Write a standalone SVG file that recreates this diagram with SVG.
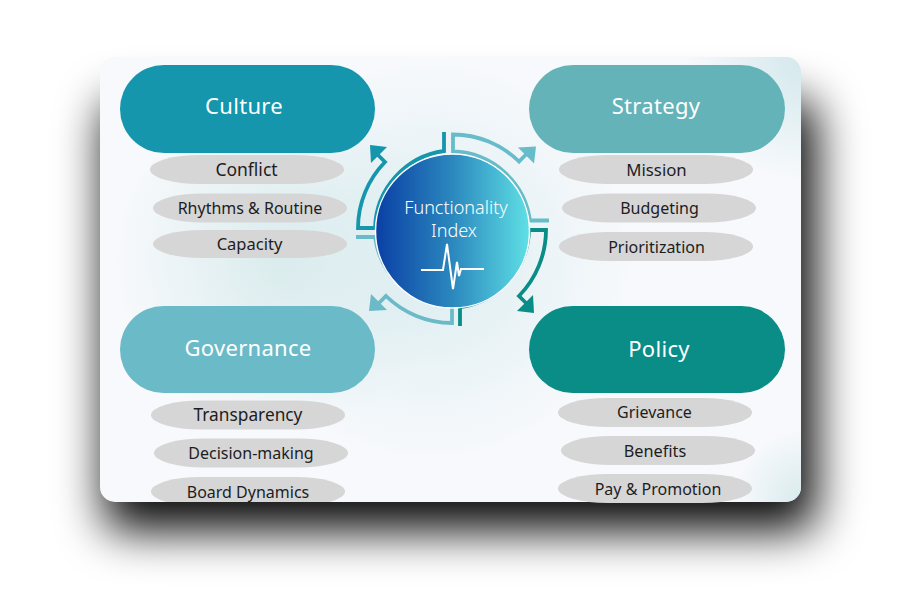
<svg xmlns="http://www.w3.org/2000/svg" width="900" height="600" viewBox="0 0 900 600">
<style>
text{font-family:"Noto Sans","Open Sans",sans-serif;text-anchor:middle}
.h{font-size:22px;fill:#fff;letter-spacing:.3px}
.s{font-size:16px;fill:#1d1d1f}
.p{fill:#d6d6d6}
.a{fill:none;stroke-width:3.8}
</style>
<defs>
<filter id="b1" x="-30%" y="-30%" width="160%" height="170%"><feGaussianBlur stdDeviation="23"/></filter>
<radialGradient id="t1" gradientUnits="userSpaceOnUse" cx="285" cy="260" r="170"><stop offset="0" stop-color="#d9ebec"/><stop offset="1" stop-color="#d9ebec" stop-opacity="0"/></radialGradient>
<radialGradient id="t2" gradientUnits="userSpaceOnUse" cx="430" cy="260" r="200"><stop offset="0" stop-color="#dcedf0"/><stop offset="1" stop-color="#dcedf0" stop-opacity="0"/></radialGradient>
<radialGradient id="t3" gradientUnits="userSpaceOnUse" cx="805" cy="60" r="120"><stop offset="0" stop-color="#d3e8ec"/><stop offset="1" stop-color="#d3e8ec" stop-opacity="0"/></radialGradient>
<radialGradient id="t4" gradientUnits="userSpaceOnUse" cx="805" cy="500" r="70"><stop offset="0" stop-color="#d8eaec"/><stop offset="1" stop-color="#d8eaec" stop-opacity="0"/></radialGradient>
<linearGradient id="c" x1="0" x2="1" y1="0" y2="0"><stop offset="0" stop-color="#0a3fa5"/><stop offset=".5" stop-color="#2b88be"/><stop offset="1" stop-color="#5fe0e5"/></linearGradient>
<clipPath id="card"><rect x="100" y="57" width="701" height="445" rx="15"/></clipPath>
<path id="arc" d="M444 132V151A80 80 0 0 0 375 228H358A95 95 0 0 1 385 162L378 155"/>
<path id="head" d="M370 145L387 147L371 163Z"/>
</defs>
<rect id="shadow" x="104" y="100" width="712" height="431" rx="20" fill="#000" fill-opacity=".95" filter="url(#b1)"/>
<g id="card-bg">
<rect x="100" y="57" width="701" height="445" rx="15" fill="#f7f9fc"/>
<g clip-path="url(#card)">
<rect x="100" y="57" width="701" height="445" fill="url(#t1)"/>
<rect x="100" y="57" width="701" height="445" fill="url(#t2)"/>
<rect x="100" y="57" width="701" height="445" fill="url(#t3)"/>
<rect x="100" y="57" width="701" height="445" fill="url(#t4)"/>
</g>
</g>
<g id="connectors">
<g stroke="#1596ac" fill="#1596ac"><use href="#arc" class="a"/><use href="#head" stroke="none"/></g>
<g stroke="#66bcc8" fill="#66bcc8" transform="translate(-2 -2.500) rotate(90 452 231)"><use href="#arc" class="a"/><use href="#head" stroke="none"/></g>
<g stroke="#0a8c87" fill="#0a8c87" transform="translate(0 -4) rotate(180 452 231)"><use href="#arc" class="a"/><use href="#head" stroke="none"/></g>
<g stroke="#6bbac8" fill="#6bbac8" transform="translate(3 -2) rotate(270 452 231)"><use href="#arc" class="a"/><use href="#head" stroke="none"/></g>
</g>
<g id="center">
<circle cx="452.500" cy="231" r="77" fill="url(#c)" stroke="#fff" stroke-width="1.500"/>
<text x="456" y="214" font-size="18" fill="#fff" font-weight="300">Functionality</text>
<text x="454" y="237" font-size="18" fill="#fff" font-weight="300">Index</text>
<path d="M421 270H443L447 244L453 289L457 262L459 276L461 269H484" fill="none" stroke="#fff" stroke-width="2"/>
</g>
<g id="culture"><rect x="120" y="65" width="255" height="88" rx="44" fill="#1596ac"/><text class="h" x="244" y="114">Culture</text></g>
<g id="strategy"><rect x="529" y="65" width="256" height="88" rx="44" fill="#64b3b9"/><text class="h" x="656" y="114">Strategy</text></g>
<g id="governance"><rect x="120" y="306" width="255" height="87" rx="43.500" fill="#6bbac8"/><text class="h" x="248" y="356">Governance</text></g>
<g id="policy"><rect x="529" y="306" width="256" height="87" rx="43.500" fill="#0a8c87"/><text class="h" x="659" y="357">Policy</text></g>
<g id="conflict"><rect class="p" x="150" y="155" width="194" height="29" rx="50" ry="14.500"/><text class="s" x="246.500" y="176" style="font-size:17.500px">Conflict</text></g>
<g id="rhythms"><rect class="p" x="153" y="193.500" width="194" height="29" rx="50" ry="14.500"/><text class="s" x="250" y="213.500">Rhythms &amp; Routine</text></g>
<g id="capacity"><rect class="p" x="153" y="230" width="194" height="28" rx="50" ry="14"/><text class="s" x="249.500" y="250" style="font-size:16.500px">Capacity</text></g>
<g id="mission"><rect class="p" x="559" y="155" width="194" height="29" rx="50" ry="14.500"/><text class="s" x="656.500" y="176" style="font-size:16.800px">Mission</text></g>
<g id="budgeting"><rect class="p" x="562" y="193.500" width="194" height="29" rx="50" ry="14.500"/><text class="s" x="659.500" y="214">Budgeting</text></g>
<g id="prioritization"><rect class="p" x="559" y="232" width="194" height="29" rx="50" ry="14.500"/><text class="s" x="656.500" y="253">Prioritization</text></g>
<g id="transparency"><rect class="p" x="151" y="400.500" width="194" height="29" rx="50" ry="14.500"/><text class="s" x="248" y="421" style="font-size:17.300px">Transparency</text></g>
<g id="decision"><rect class="p" x="154" y="438.500" width="194" height="29" rx="50" ry="14.500"/><text class="s" x="251" y="459">Decision-making</text></g>
<g id="board" clip-path="url(#card)"><rect class="p" x="151" y="477" width="194" height="29" rx="50" ry="14.500"/><text class="s" x="248" y="498">Board Dynamics</text></g>
<g id="grievance"><rect class="p" x="558" y="398" width="194" height="29" rx="50" ry="14.500"/><text class="s" x="654.500" y="418">Grievance</text></g>
<g id="benefits"><rect class="p" x="561" y="436" width="194" height="29" rx="50" ry="14.500"/><text class="s" x="655" y="456.500" style="font-size:16.300px">Benefits</text></g>
<g id="pay"><rect class="p" x="558" y="474" width="194" height="29" rx="50" ry="14.500"/><text class="s" x="658" y="494.500">Pay &amp; Promotion</text></g>
</svg>
